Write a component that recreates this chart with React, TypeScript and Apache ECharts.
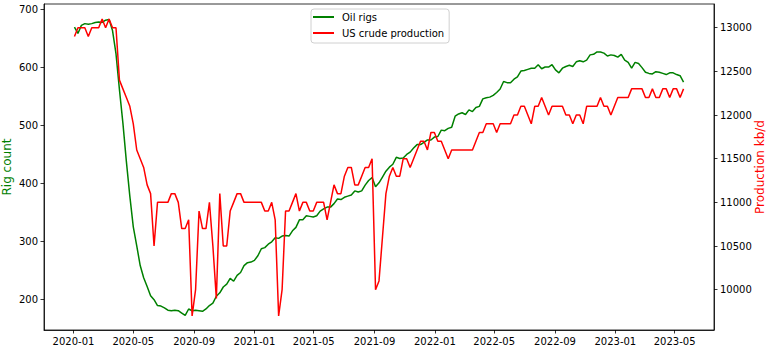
import React, { useEffect, useRef } from "react";
import * as echarts from "echarts";

// Weekly observations, starting Friday 2020-01-03
const START_YEAR = 2020;
const START_MONTH = 0;
const START_DAY = 3;

const oilRigs: number[] = [
  670, 659, 673, 676, 675, 676, 678, 679, 678, 682, 683, 664, 624, 562, 504, 438, 378, 325, 292, 258,
  237, 222, 206, 199, 189, 188, 185, 181, 180, 181, 180, 176, 172, 183, 180, 181, 180, 179, 183, 189,
  193, 205, 211, 221, 226, 236, 231, 241, 246, 258, 263, 264, 267, 275, 287, 289, 295, 299, 306, 305,
  309, 310, 309, 318, 324, 337, 337, 344, 343, 342, 344, 352, 356, 359, 359, 365, 373, 372, 376, 378,
  380, 387, 385, 387, 397, 405, 410, 394, 401, 411, 421, 428, 433, 445, 443, 444, 450, 454, 461, 467,
  467, 471, 475, 475, 480, 481, 492, 491, 495, 497, 516, 520, 522, 519, 527, 524, 531, 533, 546, 548,
  549, 552, 557, 563, 576, 574, 574, 580, 584, 594, 595, 597, 599, 599, 605, 598, 601, 601, 605, 596,
  591, 599, 602, 604, 602, 610, 612, 610, 613, 622, 623, 627, 627, 625, 620, 622, 621, 618, 623, 613,
  609, 599, 609, 607, 600, 592, 590, 589, 593, 592, 590, 588, 591, 591, 588, 586, 575,
];

const crudeProduction: number[] = [
  12900, 13000, 13000, 13000, 12900, 13000, 13000, 13000, 13100, 13000, 13100, 13000, 13000, 12400, 12300, 12200, 12100, 11900, 11600, 11500,
  11400, 11200, 11100, 10500, 11000, 11000, 11000, 11000, 11100, 11100, 11000, 10700, 10700, 10800, 9700, 10000, 10900, 10700, 10700, 11000,
  10500, 9900, 11100, 10500, 10500, 10900, 11000, 11100, 11100, 11000, 11000, 11000, 11000, 11000, 11000, 10900, 10900, 11000, 10800, 9700,
  10000, 10900, 10900, 11000, 11100, 10900, 11000, 11000, 10900, 10900, 11000, 11000, 11000, 10800, 11000, 11200, 11100, 11100, 11300, 11400,
  11400, 11200, 11200, 11300, 11400, 11400, 11500, 10000, 10100, 10600, 11100, 11300, 11400, 11300, 11300, 11500, 11500, 11400, 11500, 11600,
  11700, 11700, 11600, 11800, 11800, 11700, 11700, 11600, 11500, 11600, 11600, 11600, 11600, 11600, 11600, 11600, 11700, 11800, 11800, 11900,
  11900, 11900, 11800, 11900, 11900, 11900, 11900, 12000, 12000, 12100, 12100, 12000, 11900, 12100, 12100, 12200, 12100, 12000, 12100, 12100,
  12100, 12100, 12000, 12000, 11900, 12000, 12000, 11900, 12100, 12100, 12100, 12100, 12200, 12100, 12100, 12000, 12100, 12200, 12200, 12200,
  12200, 12300, 12300, 12300, 12300, 12200, 12200, 12300, 12200, 12200, 12300, 12300, 12200, 12300, 12300, 12200, 12300,
];

const xTickLabels: string[] = [
  "2020-01", "2020-05", "2020-09", "2021-01", "2021-05", "2021-09",
  "2022-01", "2022-05", "2022-09", "2023-01", "2023-05",
];
const rigTicks: number[] = [200, 300, 400, 500, 600, 700];
const productionTicks: number[] = [10000, 10500, 11000, 11500, 12000, 12500, 13000];

function pad2(n: number) {
  return n < 10 ? "0" + n : "" + n;
}

export default function App() {
  const ref = useRef<HTMLDivElement>(null);

  useEffect(() => {
    if (!ref.current) return;
    const chart = echarts.init(ref.current, undefined, { renderer: "svg" });

    const dates = oilRigs.map((_, i) =>
      new Date(START_YEAR, START_MONTH, START_DAY + 7 * i).getTime()
    );
    const first = dates[0];
    const last = dates[dates.length - 1];
    const margin = (last - first) * 0.05;

    const xTicks = xTickLabels.map((s) => {
      const [y, m] = s.split("-").map(Number);
      return new Date(y, m - 1, 1).getTime();
    });

    const font = "DejaVu Sans";

    chart.setOption({
      animation: false,
      textStyle: { fontFamily: font },
      grid: {
        left: 44,
        right: 57,
        top: 4,
        bottom: 21,
        containLabel: false,
        outerBoundsMode: "none",
        show: true,
        borderColor: "#000",
        borderWidth: 0.8,
        backgroundColor: "#fff",
      },
      legend: {
        orient: "vertical",
        left: 311,
        top: 9,
        padding: [1, 5, 3, 2],
        itemGap: 2,
        itemWidth: 21,
        itemHeight: 2,
        icon: "rect",
        backgroundColor: "rgba(255,255,255,0.8)",
        borderColor: "#d0d0d0",
        borderWidth: 1,
        borderRadius: 3,
        textStyle: {
          fontFamily: font,
          fontSize: 10,
          color: "#000",
          lineHeight: 14,
          padding: [0, 0, 0, 3],
        },
        data: ["Oil rigs", "US crude production"],
      },
      xAxis: {
        type: "value",
        min: first - margin,
        max: last + margin,
        scale: true,
        splitLine: { show: false },
        axisLine: { show: true, onZero: false, lineStyle: { color: "#000", width: 0.8 } },
        axisTick: {
          show: true,
          length: 3.5,
          lineStyle: { color: "#000", width: 0.8 },
          customValues: xTicks,
        },
        axisLabel: {
          customValues: xTicks,
          fontSize: 10,
          fontFamily: font,
          color: "#000",
          margin: 6,
          hideOverlap: false,
          formatter: (v: number) => {
            const d = new Date(v);
            return d.getFullYear() + "-" + pad2(d.getMonth() + 1);
          },
        },
      },
      yAxis: [
        {
          type: "value",
          position: "left",
          min: 146.7,
          max: 709.9,
          name: "Rig count",
          nameLocation: "middle",
          nameRotate: 90,
          nameGap: 31,
          nameMoveOverlap: false,
          nameTextStyle: { color: "#008000", fontSize: 12, fontFamily: font },
          splitLine: { show: false },
          axisLine: { show: true, lineStyle: { color: "#000", width: 0.8 } },
          axisTick: {
            show: true,
            length: 3.5,
            lineStyle: { color: "#000", width: 0.8 },
            customValues: rigTicks,
          },
          axisLabel: {
            customValues: rigTicks,
            fontSize: 10,
            fontFamily: font,
            color: "#000",
            margin: 6,
            formatter: (v: number) => String(v),
          },
        },
        {
          type: "value",
          position: "right",
          min: 9538,
          max: 13272,
          name: "Production kb/d",
          nameLocation: "middle",
          nameRotate: 90,
          nameGap: 40,
          nameMoveOverlap: false,
          nameTextStyle: { color: "#ff0000", fontSize: 12, fontFamily: font },
          splitLine: { show: false },
          axisLine: { show: true, lineStyle: { color: "#000", width: 0.8 } },
          axisTick: {
            show: true,
            length: 3.5,
            lineStyle: { color: "#000", width: 0.8 },
            customValues: productionTicks,
          },
          axisLabel: {
            customValues: productionTicks,
            fontSize: 10,
            fontFamily: font,
            color: "#000",
            margin: 6,
            formatter: (v: number) => String(v),
          },
        },
      ],
      series: [
        {
          name: "Oil rigs",
          type: "line",
          yAxisIndex: 0,
          symbol: "none",
          color: "#008000",
          lineStyle: { color: "#008000", width: 1.5 },
          data: oilRigs.map((v, i) => [dates[i], v]),
        },
        {
          name: "US crude production",
          type: "line",
          yAxisIndex: 1,
          symbol: "none",
          color: "#ff0000",
          lineStyle: { color: "#ff0000", width: 1.5 },
          data: crudeProduction.map((v, i) => [dates[i], v]),
        },
      ],
    });

    return () => chart.dispose();
  }, []);

  return (
    <div
      ref={ref}
      style={{ position: "absolute", left: 0, top: 0, width: 771, height: 351, background: "#fff" }}
    />
  );
}
